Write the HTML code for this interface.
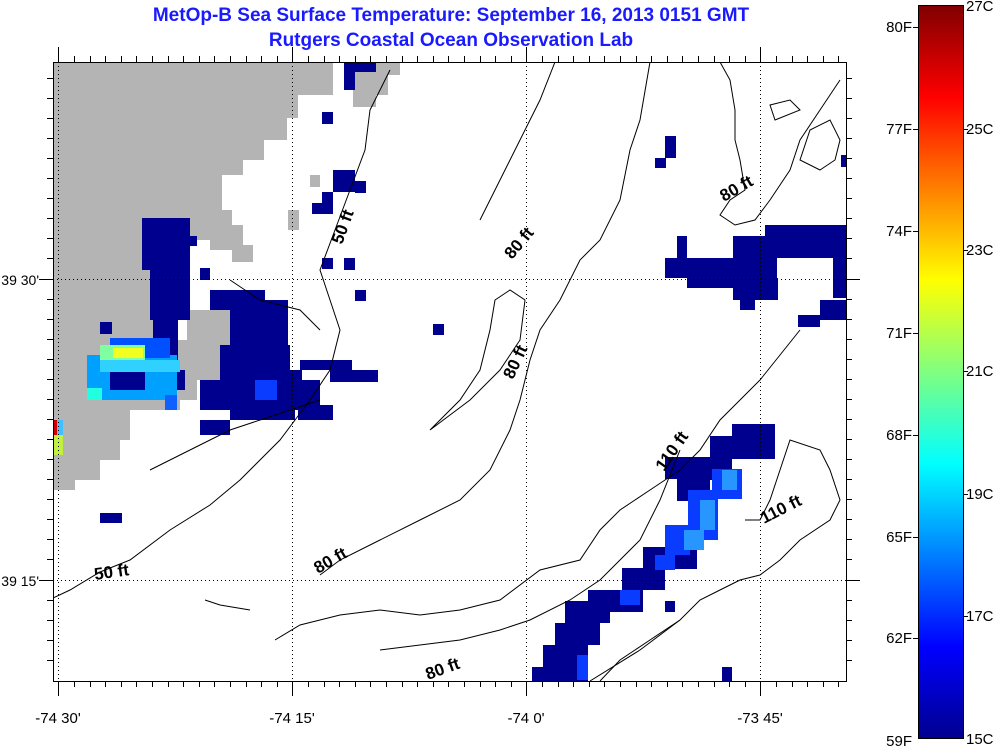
<!DOCTYPE html>
<html><head><meta charset="utf-8"><style>
html,body{margin:0;padding:0;background:#fff;}
svg{display:block;font-family:"Liberation Sans",sans-serif;}
</style></head><body>
<svg width="1000" height="754" viewBox="0 0 1000 754" xmlns="http://www.w3.org/2000/svg">
<defs>
<linearGradient id="jet" x1="0" y1="1" x2="0" y2="0">
<stop offset="0" stop-color="#00008f"/>
<stop offset="0.125" stop-color="#0000ff"/>
<stop offset="0.375" stop-color="#00ffff"/>
<stop offset="0.625" stop-color="#ffff00"/>
<stop offset="0.875" stop-color="#ff0000"/>
<stop offset="1" stop-color="#800000"/>
</linearGradient>
<clipPath id="pc"><rect x="53" y="62" width="793" height="619"/></clipPath>
</defs>
<text x="451" y="21" text-anchor="middle" font-size="19" font-weight="bold" fill="#1a1aff">MetOp-B Sea Surface Temperature:  September 16, 2013 0151 GMT</text>
<text x="451" y="46" text-anchor="middle" font-size="19" font-weight="bold" fill="#1a1aff">Rutgers Coastal Ocean Observation Lab</text>

<g clip-path="url(#pc)">
<polygon fill="#b4b4b4" points="53,62 333,62 333,95 298,95 298,118 287,118 287,140 264,140 264,160 243,160 243,175 222,175 222,210 232,210 232,225 243,225 243,245 253,245 253,262 232,262 232,250 210,250 210,240 190,240 190,218 142,218 142,270 150,270 150,320 153,320 153,340 187,340 187,310 230,310 230,360 220,360 220,380 197,380 197,400 180,400 180,410 130,410 130,440 120,440 120,460 100,460 100,480 75,480 75,490 53,490"/>
<polygon fill="#b4b4b4" points="355,62 400,62 400,75 388,75 388,95 376,95 376,107 353,107 353,85"/>
<rect x="310" y="175" width="10" height="12" fill="#b4b4b4"/>
<rect x="288" y="210" width="11" height="20" fill="#b4b4b4"/>
<g fill="#00008f">
<rect x="142" y="218" width="48" height="52"/>
<rect x="150" y="270" width="40" height="50"/>
<rect x="153" y="320" width="25" height="50"/>
<rect x="187" y="236" width="10" height="10"/>
<rect x="200" y="268" width="10" height="12"/>
<rect x="210" y="290" width="55" height="20"/>
<rect x="230" y="300" width="58" height="80"/>
<rect x="220" y="345" width="70" height="35"/>
<rect x="200" y="380" width="120" height="30"/>
<rect x="230" y="405" width="65" height="15"/>
<rect x="200" y="420" width="30" height="15"/>
<rect x="300" y="360" width="52" height="10"/>
<rect x="330" y="370" width="48" height="12"/>
<rect x="290" y="370" width="12" height="40"/>
<rect x="298" y="405" width="35" height="15"/>
<rect x="100" y="322" width="12" height="12"/>
<rect x="155" y="370" width="30" height="20"/>
<rect x="100" y="513" width="22" height="10"/>
</g>
<rect x="255" y="380" width="22" height="20" fill="#0a3cff"/>
<rect x="87" y="355" width="90" height="45" fill="#00a0ff"/>
<rect x="110" y="338" width="60" height="20" fill="#0050ff"/>
<rect x="100" y="345" width="45" height="15" fill="#80ffa0"/>
<rect x="113" y="348" width="30" height="10" fill="#f0ff20"/>
<rect x="100" y="360" width="80" height="12" fill="#30d0ff"/>
<rect x="110" y="372" width="35" height="18" fill="#00008f"/>
<rect x="87" y="388" width="15" height="12" fill="#20ffe0"/>
<rect x="165" y="395" width="12" height="15" fill="#1060ff"/>
<rect x="53" y="420" width="4" height="15" fill="#cc0000"/>
<rect x="53" y="435" width="10" height="20" fill="#c0f040"/>
<rect x="57" y="420" width="6" height="15" fill="#40c0ff"/>
<g fill="#00008f">
<rect x="344" y="62" width="32" height="10"/>
<rect x="344" y="72" width="11" height="18"/>
<rect x="322" y="112" width="11" height="12"/>
<rect x="333" y="170" width="22" height="22"/>
<rect x="355" y="181" width="11" height="12"/>
<rect x="322" y="192" width="11" height="22"/>
<rect x="312" y="203" width="10" height="11"/>
<rect x="322" y="258" width="11" height="11"/>
<rect x="344" y="258" width="11" height="12"/>
<rect x="355" y="290" width="11" height="11"/>
<rect x="433" y="324" width="11" height="11"/>
<rect x="665" y="136" width="11" height="22"/>
<rect x="655" y="158" width="11" height="10"/>
<rect x="765" y="225" width="81" height="33"/>
<rect x="733" y="236" width="32" height="22"/>
<rect x="677" y="236" width="10" height="22"/>
<rect x="665" y="258" width="112" height="20"/>
<rect x="687" y="278" width="90" height="10"/>
<rect x="733" y="278" width="45" height="22"/>
<rect x="740" y="300" width="15" height="10"/>
<rect x="833" y="258" width="13" height="40"/>
<rect x="820" y="300" width="26" height="20"/>
<rect x="798" y="315" width="22" height="12"/>
<rect x="841" y="155" width="5" height="12"/>
<rect x="732" y="424" width="43" height="35"/>
<rect x="710" y="436" width="22" height="44"/>
<rect x="665" y="457" width="45" height="22"/>
<rect x="677" y="479" width="33" height="22"/>
<rect x="643" y="547" width="54" height="22"/>
<rect x="622" y="568" width="43" height="22"/>
<rect x="588" y="590" width="55" height="22"/>
<rect x="565" y="601" width="45" height="22"/>
<rect x="555" y="623" width="45" height="22"/>
<rect x="543" y="645" width="45" height="36"/>
<rect x="532" y="667" width="45" height="14"/>
<rect x="665" y="601" width="10" height="11"/>
<rect x="722" y="667" width="10" height="14"/>
</g>
<g fill="#0a3cff">
<rect x="712" y="469" width="30" height="30"/>
<rect x="688" y="490" width="30" height="50"/>
<rect x="665" y="525" width="25" height="30"/>
<rect x="655" y="555" width="20" height="15"/>
<rect x="620" y="590" width="20" height="15"/>
<rect x="577" y="655" width="11" height="25"/>
</g>
<g fill="#2896ff">
<rect x="700" y="500" width="15" height="30"/>
<rect x="684" y="530" width="20" height="20"/>
<rect x="722" y="470" width="15" height="20"/>
</g>
<g fill="none" stroke="#000" stroke-width="1">
<path d="M53,598 L70,590 L100,572 L130,560 L170,530 L210,505 L240,480 L280,440 L310,400 L330,370 L340,330 L330,300 L320,270 L335,230 L350,190 L365,150 L370,110 L390,70"/>
<path d="M150,470 L190,450 L230,430 L260,420 L290,410 L320,400"/>
<path d="M230,280 L260,300 L300,310 L320,330"/>
<path d="M320,575 L340,560 L380,540 L420,520 L460,500 L490,470 L510,430 L520,400 L530,360 L540,330 L560,300 L580,260 L600,240 L620,200 L630,150 L640,120 L650,62"/>
<path d="M430,430 L470,400 L500,370 L520,340 L525,300 L510,290 L495,300 L490,330 L480,370 L460,400 L430,430"/>
<path d="M480,220 L500,180 L520,140 L540,100 L555,62"/>
<path d="M275,640 L300,625 L340,615 L380,610 L420,615 L460,610 L500,600 L540,570 L580,560 L600,530 L620,510 L650,490 L680,470 L700,450 L720,420 L740,400 L760,380 L800,330"/>
<path d="M720,62 L730,80 L735,110 L735,140 L740,160 L745,190 L730,200 L720,215 L735,225 L755,220 L770,200 L790,170 L800,140 L820,110 L840,80"/>
<path d="M590,681 L640,650 L680,620 L700,600 L720,590 L740,580 L760,575 L780,560 L800,540 L830,520 L840,500 L830,470 L820,450 L790,440 L780,470 L770,500 L760,520 L745,520"/>
<path d="M380,650 L420,645 L460,640 L500,630 L530,620 L570,600 L600,580 L640,540 L660,500 L680,450"/>
<path d="M820,170 L835,160 L840,140 L830,120 L810,130 L800,160 Z"/>
<path d="M775,120 L800,110 L790,100 L770,105 Z"/>
<path d="M600,681 L620,660 L650,640 L680,620"/>
<path d="M205,600 L220,605 L250,610"/>
</g>
<g font-weight="bold" font-size="17" fill="#000">
<text transform="translate(342,245) rotate(-70)">50 ft</text>
<text transform="translate(512,260) rotate(-50)">80 ft</text>
<text transform="translate(513,380) rotate(-65)">80 ft</text>
<text transform="translate(724,202) rotate(-30)">80 ft</text>
<text transform="translate(664,472) rotate(-55)">110 ft</text>
<text transform="translate(764,524) rotate(-27)">110 ft</text>
<text transform="translate(95,580) rotate(-8)">50 ft</text>
<text transform="translate(318,574) rotate(-30)">80 ft</text>
<text transform="translate(428,680) rotate(-20)">80 ft</text>
</g>
<g stroke="#000" stroke-width="1" stroke-dasharray="1,3">
<line x1="58.5" y1="62" x2="58.5" y2="681"/>
<line x1="292.5" y1="62" x2="292.5" y2="681"/>
<line x1="526.5" y1="62" x2="526.5" y2="681"/>
<line x1="760.5" y1="62" x2="760.5" y2="681"/>
<line x1="53" y1="279.5" x2="846" y2="279.5"/>
<line x1="53" y1="580.5" x2="846" y2="580.5"/>
</g>
</g>
<rect x="53.5" y="62.5" width="793" height="619" fill="none" stroke="#000"/>
<g stroke="#000" stroke-width="1">
<path d="M58.5,681v15M292.5,681v15M526.5,681v15M760.5,681v15M58.5,62v-15M292.5,62v-15M526.5,62v-15M760.5,62v-15M53,279.5h-14M53,580.5h-14M846,279.5h14M846,580.5h14"/>
<path d="M74.5,681v6M90.5,681v6M105.5,681v6M121.5,681v6M136.5,681v6M152.5,681v6M168.5,681v6M183.5,681v6M199.5,681v6M214.5,681v6M230.5,681v6M246.5,681v6M261.5,681v6M277.5,681v6M308.5,681v6M324.5,681v6M339.5,681v6M355.5,681v6M370.5,681v6M386.5,681v6M402.5,681v6M417.5,681v6M433.5,681v6M448.5,681v6M464.5,681v6M480.5,681v6M495.5,681v6M511.5,681v6M542.5,681v6M558.5,681v6M573.5,681v6M589.5,681v6M604.5,681v6M620.5,681v6M636.5,681v6M651.5,681v6M667.5,681v6M682.5,681v6M698.5,681v6M714.5,681v6M729.5,681v6M745.5,681v6M776.5,681v6M792.5,681v6M807.5,681v6M823.5,681v6M838.5,681v6"/>
<path d="M74.5,62v-6M90.5,62v-6M105.5,62v-6M121.5,62v-6M136.5,62v-6M152.5,62v-6M168.5,62v-6M183.5,62v-6M199.5,62v-6M214.5,62v-6M230.5,62v-6M246.5,62v-6M261.5,62v-6M277.5,62v-6M308.5,62v-6M324.5,62v-6M339.5,62v-6M355.5,62v-6M370.5,62v-6M386.5,62v-6M402.5,62v-6M417.5,62v-6M433.5,62v-6M448.5,62v-6M464.5,62v-6M480.5,62v-6M495.5,62v-6M511.5,62v-6M542.5,62v-6M558.5,62v-6M573.5,62v-6M589.5,62v-6M604.5,62v-6M620.5,62v-6M636.5,62v-6M651.5,62v-6M667.5,62v-6M682.5,62v-6M698.5,62v-6M714.5,62v-6M729.5,62v-6M745.5,62v-6M776.5,62v-6M792.5,62v-6M807.5,62v-6M823.5,62v-6M838.5,62v-6"/>
<path d="M53,78.5h-6M53,98.5h-6M53,118.5h-6M53,138.5h-6M53,158.5h-6M53,178.5h-6M53,198.5h-6M53,218.5h-6M53,238.5h-6M53,258.5h-6M53,299.5h-6M53,319.5h-6M53,339.5h-6M53,359.5h-6M53,379.5h-6M53,399.5h-6M53,419.5h-6M53,439.5h-6M53,459.5h-6M53,479.5h-6M53,499.5h-6M53,519.5h-6M53,539.5h-6M53,559.5h-6M53,600.5h-6M53,620.5h-6M53,640.5h-6M53,660.5h-6"/>
<path d="M846,78.5h6M846,98.5h6M846,118.5h6M846,138.5h6M846,158.5h6M846,178.5h6M846,198.5h6M846,218.5h6M846,238.5h6M846,258.5h6M846,299.5h6M846,319.5h6M846,339.5h6M846,359.5h6M846,379.5h6M846,399.5h6M846,419.5h6M846,439.5h6M846,459.5h6M846,479.5h6M846,499.5h6M846,519.5h6M846,539.5h6M846,559.5h6M846,600.5h6M846,620.5h6M846,640.5h6M846,660.5h6"/>
</g>
<g font-size="15" fill="#000">
<text x="58" y="723" text-anchor="middle">-74 30'</text>
<text x="292" y="723" text-anchor="middle">-74 15'</text>
<text x="526" y="723" text-anchor="middle">-74 0'</text>
<text x="760" y="723" text-anchor="middle">-73 45'</text>
</g>
<g font-size="14" fill="#000">
<text x="39" y="285" text-anchor="end">39 30'</text>
<text x="39" y="586" text-anchor="end">39 15'</text>
</g>
<rect x="918.5" y="5.5" width="45" height="733" fill="url(#jet)" stroke="#000"/>
<g stroke="#000"><path d="M913,27.5h5M913,129.5h5M913,231.5h5M913,333.5h5M913,435.5h5M913,537.5h5M913,638.5h5M963,129.5h5M963,250.5h5M963,371.5h5M963,494.5h5M963,616.5h5"/></g>
<g font-size="15" fill="#000">
<text x="912" y="32" text-anchor="end">80F</text>
<text x="912" y="134" text-anchor="end">77F</text>
<text x="912" y="236" text-anchor="end">74F</text>
<text x="912" y="338" text-anchor="end">71F</text>
<text x="912" y="440" text-anchor="end">68F</text>
<text x="912" y="542" text-anchor="end">65F</text>
<text x="912" y="643" text-anchor="end">62F</text>
<text x="912" y="746" text-anchor="end">59F</text>
<text x="966" y="11">27C</text>
<text x="966" y="134">25C</text>
<text x="966" y="255">23C</text>
<text x="966" y="376">21C</text>
<text x="966" y="499">19C</text>
<text x="966" y="621">17C</text>
<text x="966" y="744">15C</text>
</g>
</svg>
</body></html>
